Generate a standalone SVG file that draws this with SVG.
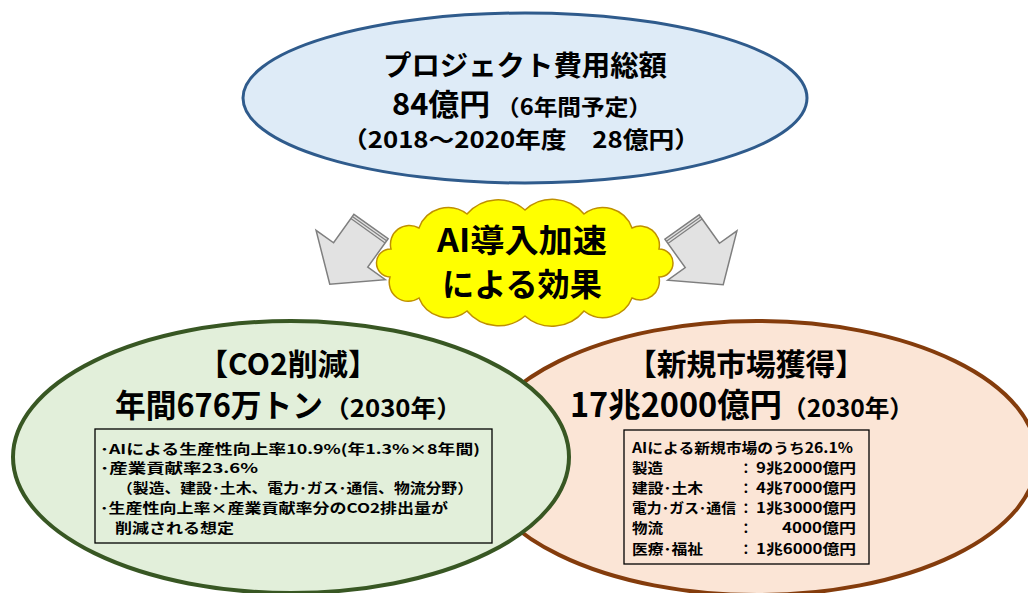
<svg xmlns="http://www.w3.org/2000/svg" width="1028" height="593" viewBox="0 0 1028 593">
<style>
.t{font-family:"Noto Sans CJK JP","Noto Sans",sans-serif;font-weight:700;fill:#000}
.arrow{fill:#E2E2E2;stroke:#7F7F7F;stroke-width:1.5;stroke-linejoin:miter}
.stripe{stroke:#7F7F7F;stroke-width:1.2}
.box{fill:none;stroke:#000;stroke-width:1.3}
</style>
<rect width="1028" height="593" fill="#fff"/>
<g id="project-cost">
  <ellipse cx="525" cy="98" rx="282" ry="85" fill="#DEEBF7" stroke="#2F5B8C" stroke-width="3"/>
  <text class="t" x="525" y="76" font-size="28" text-anchor="middle" textLength="284" lengthAdjust="spacingAndGlyphs">プロジェクト費用総額</text>
  <text class="t" x="392" y="115" font-size="30" textLength="98" lengthAdjust="spacingAndGlyphs">84億円</text>
  <text class="t" x="496" y="115" font-size="22" textLength="156" lengthAdjust="spacingAndGlyphs">（6年間予定）</text>
  <text class="t" x="342" y="148" font-size="23" textLength="358" lengthAdjust="spacingAndGlyphs">（2018～2020年度　28億円）</text>
</g>
<g id="connectors">
  <g transform="translate(371,226.5) rotate(125.5)">
    <polygon class="arrow" points="0,-21 35,-21 35,-42.5 71,0 35,42.5 35,21 0,21"/>
    <line class="stripe" x1="2.6" y1="-21" x2="2.6" y2="21"/>
    <line class="stripe" x1="5.2" y1="-21" x2="5.2" y2="21"/>
  </g>
  <g transform="translate(682,227) rotate(54.5)">
    <polygon class="arrow" points="0,-21 35,-21 35,-42.5 71,0 35,42.5 35,21 0,21"/>
    <line class="stripe" x1="2.6" y1="-21" x2="2.6" y2="21"/>
    <line class="stripe" x1="5.2" y1="-21" x2="5.2" y2="21"/>
  </g>
</g>
<g id="ai-effect">
  <path d="M390,277 A14,14 0 0 1 391,249 A19,19 0 0 1 419,228 A31,31 0 0 1 467,214 A41,41 0 0 1 525,210 A41,41 0 0 1 584,214 A31,31 0 0 1 632,228 A19,19 0 0 1 659,249 A14,14 0 0 1 659,277 A19,19 0 0 1 632,298 A31,31 0 0 1 584,311 A41,41 0 0 1 525,316 A41,41 0 0 1 467,311 A31,31 0 0 1 419,298 A19,19 0 0 1 390,277 Z" fill="#FFFF00" stroke="#BF9000" stroke-width="1.5"/>
  <text class="t" x="522" y="252" font-size="32" text-anchor="middle" textLength="170" lengthAdjust="spacingAndGlyphs">AI導入加速</text>
  <text class="t" x="522" y="295.5" font-size="32" text-anchor="middle" textLength="160" lengthAdjust="spacingAndGlyphs">による効果</text>
</g>
<g id="new-market">
  <ellipse cx="757" cy="458" rx="280" ry="137" fill="#FBE5D6" stroke="#843C0C" stroke-width="4"/>
  <text class="t" x="746" y="375" font-size="30" text-anchor="middle" textLength="238" lengthAdjust="spacingAndGlyphs">【新規市場獲得】</text>
  <text class="t" x="570" y="417" font-size="33" textLength="212" lengthAdjust="spacingAndGlyphs">17兆2000億円</text>
  <text class="t" x="782" y="417" font-size="24" textLength="132" lengthAdjust="spacingAndGlyphs">（2030年）</text>
  <rect class="box" x="624" y="430" width="245" height="134"/>
  <g class="t" font-size="13.8">
    <text x="632" y="452.5" textLength="221" lengthAdjust="spacingAndGlyphs">AIによる新規市場のうち26.1%</text>
    <text x="632" y="472.7" textLength="31" lengthAdjust="spacingAndGlyphs">製造</text>
    <text x="632" y="492.9" textLength="71" lengthAdjust="spacingAndGlyphs">建設･土木</text>
    <text x="632" y="513.1" textLength="104" lengthAdjust="spacingAndGlyphs">電力･ガス･通信</text>
    <text x="632" y="533.3" textLength="31" lengthAdjust="spacingAndGlyphs">物流</text>
    <text x="632" y="553.5" textLength="71" lengthAdjust="spacingAndGlyphs">医療･福祉</text>
    <text x="739" y="472.7">：</text>
    <text x="739" y="492.9">：</text>
    <text x="739" y="513.1">：</text>
    <text x="739" y="533.3">：</text>
    <text x="739" y="553.5">：</text>
    <text x="756" y="472.7" textLength="100" lengthAdjust="spacingAndGlyphs">9兆2000億円</text>
    <text x="756" y="492.9" textLength="100" lengthAdjust="spacingAndGlyphs">4兆7000億円</text>
    <text x="756" y="513.1" textLength="100" lengthAdjust="spacingAndGlyphs">1兆3000億円</text>
    <text x="782" y="533.3" textLength="74" lengthAdjust="spacingAndGlyphs">4000億円</text>
    <text x="756" y="553.5" textLength="100" lengthAdjust="spacingAndGlyphs">1兆6000億円</text>
  </g>
</g>
<g id="co2-reduction">
  <ellipse cx="291" cy="457" rx="278" ry="136" fill="#E2EFDA" stroke="#385723" stroke-width="4"/>
  <text class="t" x="288" y="375" font-size="30" text-anchor="middle" textLength="180" lengthAdjust="spacingAndGlyphs">【CO2削減】</text>
  <text class="t" x="115" y="417" font-size="32" textLength="208" lengthAdjust="spacingAndGlyphs">年間676万トン</text>
  <text class="t" x="324" y="417" font-size="24" textLength="138" lengthAdjust="spacingAndGlyphs">（2030年）</text>
  <rect class="box" x="95" y="429" width="397" height="114"/>
  <g class="t" font-size="13.6">
    <text x="100" y="453.5" textLength="380" lengthAdjust="spacingAndGlyphs">･AIによる生産性向上率10.9%(年1.3%×8年間)</text>
    <text x="100" y="473.3" textLength="158" lengthAdjust="spacingAndGlyphs">･産業貢献率23.6%</text>
    <text x="117" y="493.1" textLength="356" lengthAdjust="spacingAndGlyphs">（製造、建設･土木、電力･ガス･通信、物流分野）</text>
    <text x="100" y="512.9" textLength="348" lengthAdjust="spacingAndGlyphs">･生産性向上率×産業貢献率分のCO2排出量が</text>
    <text x="115" y="532.7" textLength="119" lengthAdjust="spacingAndGlyphs">削減される想定</text>
  </g>
</g>
</svg>
